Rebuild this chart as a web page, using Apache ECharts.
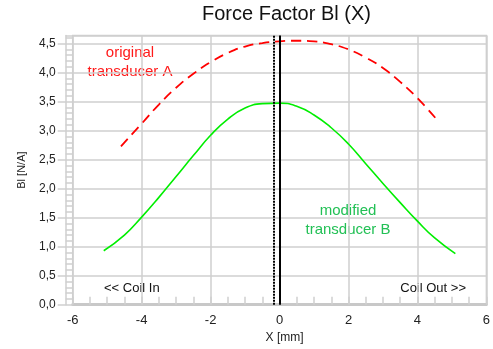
<!DOCTYPE html>
<html>
<head>
<meta charset="utf-8">
<script src="https://cdn.jsdelivr.net/npm/echarts@6/dist/echarts.min.js"></script>
<style>html,body{margin:0;padding:0;background:#fff}#c{width:493px;height:349px}</style>
</head>
<body>
<div id="c"></div>
<script>
var titleText = 'Force Factor Bl (X)';
var xName = 'X [mm]';
var yName = 'Bl [N/A]';
var seriesAName = 'original transducer A';
var seriesBName = 'modified transducer B';

var xA = [-4.6, -4, -3.5, -3, -2.5, -2, -1.5, -1, -0.5, 0, 0.5, 1, 1.5, 2, 2.5, 3, 3.5, 4, 4.55];
var yA = [2.73, 3.12, 3.45, 3.74, 3.98, 4.18, 4.34, 4.45, 4.51, 4.54, 4.55, 4.54, 4.49, 4.40, 4.26, 4.08, 3.84, 3.56, 3.20];

var xB = [-5.1, -4.5, -4, -3.5, -3, -2.5, -2, -1.5, -1, -0.5, 0, 0.5, 1, 1.5, 2, 2.5, 3, 3.5, 4, 4.5, 5.1];
var yB = [0.93, 1.20, 1.51, 1.85, 2.21, 2.57, 2.92, 3.20, 3.39, 3.465, 3.475, 3.42, 3.27, 3.05, 2.77, 2.43, 2.09, 1.76, 1.44, 1.15, 0.88];

var markerX = [-0.17, 0];

var ch = echarts.init(document.getElementById('c'));
function zip(a, b) { return a.map(function (v, i) { return [v, b[i]]; }); }
var FONT = 'Liberation Sans, Arial, sans-serif';
function yfmt(v) {
  return Math.abs(v * 2 - Math.round(v * 2)) < 1e-6 ? v.toFixed(1).replace('.', ',') : '';
}
var gridC = '#cfcfcf';
ch.setOption({
  animation: false,
  title: {
    text: titleText, left: 202, top: 4, padding: 0,
    textStyle: { fontFamily: FONT, fontWeight: 'normal', fontSize: 20, color: '#111' }
  },
  grid: { left: 72.7, right: 3.7, top: 35.5, bottom: 44.3, show: true, borderColor: gridC, borderWidth: 1.5 },
  xAxis: {
    type: 'value', min: -6, max: 6, interval: 2,
    name: xName, nameLocation: 'middle', nameGap: 26,
    nameTextStyle: { fontFamily: FONT, fontSize: 12, color: '#222', padding: [0, 0, 0, 10] },
    axisLine: { show: true, onZero: false, lineStyle: { color: '#c8c8c8', width: 3 } },
    axisTick: { show: true, inside: true, length: 8, lineStyle: { color: gridC, width: 1.5 } },
    minorTick: { show: true, splitNumber: 4, length: 8, lineStyle: { color: gridC, width: 1.5 } },
    splitLine: { show: true, lineStyle: { color: gridC, width: 1.5 } },
    axisLabel: { fontFamily: FONT, fontSize: 13, color: '#222', margin: 9 }
  },
  yAxis: [{
    type: 'value', min: 0, max: 4.64, interval: 0.5, offset: 7, position: 'left',
    axisLine: { show: true, onZero: false, lineStyle: { color: gridC, width: 1.5 } },
    axisTick: { show: true, inside: true, length: 7, lineStyle: { color: gridC, width: 1.5 } },
    minorTick: { show: true, splitNumber: 5, length: 7, lineStyle: { color: gridC, width: 1.5 } },
    splitLine: { show: true, lineStyle: { color: gridC, width: 1.5 } },
    axisLabel: { show: false }
  }, {
    type: 'value', min: 0, max: 4.64, interval: 0.5, offset: 7, position: 'left',
    name: yName, nameLocation: 'middle', nameGap: 38,
    nameTextStyle: { fontFamily: FONT, fontSize: 11, color: '#222' },
    axisLine: { show: false, onZero: false },
    axisTick: { show: true, inside: false, length: 8, lineStyle: { color: gridC, width: 1.5 } },
    splitLine: { show: false },
    axisLabel: { fontFamily: FONT, fontSize: 12, color: '#222', margin: 10, formatter: yfmt, showMaxLabel: false }
  }],
  series: [{
    name: seriesAName, type: 'line', data: zip(xA, yA), smooth: 0.5, showSymbol: false,
    lineStyle: { color: '#ff0000', width: 1.8, type: [10, 6] }, z: 3
  }, {
    name: seriesBName, type: 'line', data: zip(xB, yB), smooth: 0.5, showSymbol: false,
    lineStyle: { color: '#00ee00', width: 1.6 }, z: 3,
    markLine: {
      silent: true, symbol: 'none', label: { show: false },
      data: [
        { xAxis: markerX[0], lineStyle: { color: '#000', width: 2, type: [2, 1] } },
        { xAxis: markerX[1], lineStyle: { color: '#000', width: 2, type: 'solid' } }
      ]
    }
  }],
  graphic: [
    { type: 'text', x: 130, y: 53, style: { text: 'original', fill: '#ff1a1a', font: '15px ' + FONT, align: 'center', verticalAlign: 'middle' } },
    { type: 'text', x: 130, y: 72, style: { text: 'transducer A', fill: '#ff1a1a', font: '15px ' + FONT, align: 'center', verticalAlign: 'middle' } },
    { type: 'text', x: 348, y: 211, style: { text: 'modified', fill: '#22c055', font: '15px ' + FONT, align: 'center', verticalAlign: 'middle' } },
    { type: 'text', x: 348, y: 230, style: { text: 'transducer B', fill: '#22c055', font: '15px ' + FONT, align: 'center', verticalAlign: 'middle' } },
    { type: 'text', x: 104, y: 288, style: { text: '<< Coil In', fill: '#111', font: '13px ' + FONT, align: 'left', verticalAlign: 'middle' } },
    { type: 'text', x: 466, y: 288, style: { text: 'Coil Out >>', fill: '#111', font: '13px ' + FONT, align: 'right', verticalAlign: 'middle' } }
  ]
});
</script>
</body>
</html>
